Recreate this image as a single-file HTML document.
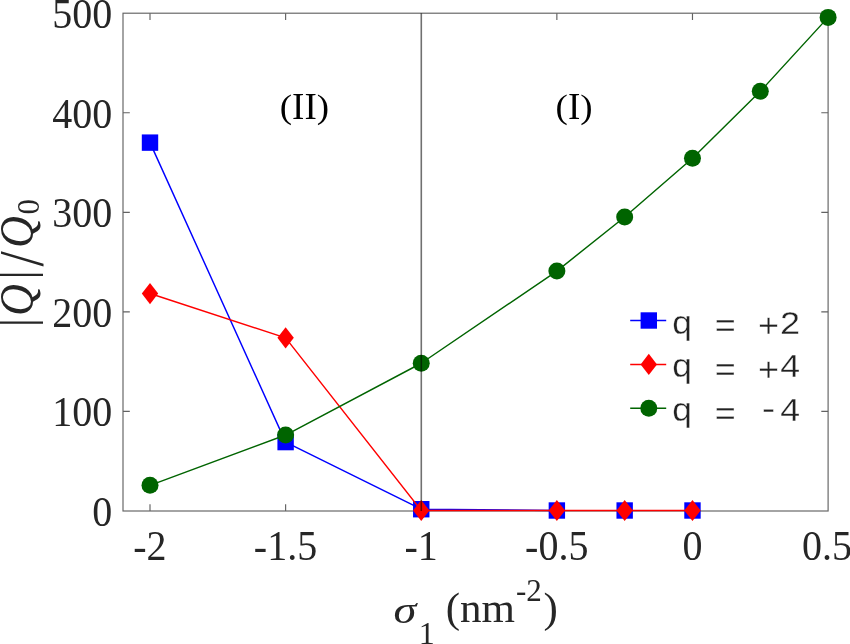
<!DOCTYPE html>
<html lang="en"><head><meta charset="utf-8"><title>Chart</title>
<style>html,body{margin:0;padding:0;background:#fff;overflow:hidden}svg{display:block}text{font-family:"Liberation Serif",serif}.tk{font-size:40px;fill:#262626}.lg{font-family:"Liberation Mono",monospace;font-size:36px;fill:#222;stroke:#fff;stroke-width:0.4px}.an{font-size:37px;fill:#000}</style></head><body>
<svg width="850" height="644" viewBox="0 0 850 644">
<rect width="850" height="644" fill="#fff"/>
<g stroke="#626262" stroke-width="1.15" fill="none">
<rect x="123.00" y="13.20" width="705.10" height="497.80"/>
<path d="M150.00 511.00v-6.80M150.00 13.20v6.80"/>
<path d="M285.62 511.00v-6.80M285.62 13.20v6.80"/>
<path d="M556.86 511.00v-6.80M556.86 13.20v6.80"/>
<path d="M692.48 511.00v-6.80M692.48 13.20v6.80"/>
<path d="M123.00 411.44h6.80M828.10 411.44h-6.80"/>
<path d="M123.00 311.88h6.80M828.10 311.88h-6.80"/>
<path d="M123.00 212.32h6.80M828.10 212.32h-6.80"/>
<path d="M123.00 112.76h6.80M828.10 112.76h-6.80"/>
</g>
<polyline points="150.00,142.63 285.62,442.10 421.24,509.21 556.86,510.50" fill="none" stroke="#0000ff" stroke-width="1.45" stroke-linejoin="round"/>
<rect x="141.80" y="134.43" width="16.40" height="16.40" fill="#0000ff"/>
<rect x="277.42" y="433.90" width="16.40" height="16.40" fill="#0000ff"/>
<rect x="413.04" y="501.01" width="16.40" height="16.40" fill="#0000ff"/>
<rect x="548.66" y="502.30" width="16.40" height="16.40" fill="#0000ff"/>
<rect x="616.47" y="502.30" width="16.40" height="16.40" fill="#0000ff"/>
<rect x="684.28" y="502.30" width="16.40" height="16.40" fill="#0000ff"/>
<polyline points="150.00,293.56 285.62,337.87 421.24,510.50 556.86,510.50 624.67,510.50 692.48,510.50" fill="none" stroke="#ff0000" stroke-width="1.45" stroke-linejoin="round"/>
<path d="M150.00 282.96L158.20 293.56L150.00 304.16L141.80 293.56Z" fill="#ff0000"/>
<path d="M285.62 327.27L293.82 337.87L285.62 348.47L277.42 337.87Z" fill="#ff0000"/>
<path d="M421.24 499.90L429.44 510.50L421.24 521.10L413.04 510.50Z" fill="#ff0000"/>
<path d="M556.86 499.90L565.06 510.50L556.86 521.10L548.66 510.50Z" fill="#ff0000"/>
<path d="M624.67 499.90L632.87 510.50L624.67 521.10L616.47 510.50Z" fill="#ff0000"/>
<path d="M692.48 499.90L700.68 510.50L692.48 521.10L684.28 510.50Z" fill="#ff0000"/>
<polyline points="150.00,485.31 285.62,435.04 421.24,363.25 556.86,271.06 624.67,217.00 692.48,158.26 760.29,91.35 828.10,17.38" fill="none" stroke="#006400" stroke-width="1.45" stroke-linejoin="round"/>
<circle cx="150.00" cy="485.31" r="8.50" fill="#006400"/>
<circle cx="285.62" cy="435.04" r="8.50" fill="#006400"/>
<circle cx="421.24" cy="363.25" r="8.50" fill="#006400"/>
<circle cx="556.86" cy="271.06" r="8.50" fill="#006400"/>
<circle cx="624.67" cy="217.00" r="8.50" fill="#006400"/>
<circle cx="692.48" cy="158.26" r="8.50" fill="#006400"/>
<circle cx="760.29" cy="91.35" r="8.50" fill="#006400"/>
<circle cx="828.10" cy="17.38" r="8.50" fill="#006400"/>
<line x1="421.29" y1="13.20" x2="421.29" y2="511.00" stroke="#000" stroke-opacity="0.56" stroke-width="1.6"/>
<text class="tk" transform="translate(149.90 560) scale(1 1.065)" text-anchor="middle">-2</text>
<text class="tk" transform="translate(285.52 560) scale(1 1.065)" text-anchor="middle">-1.5</text>
<text class="tk" transform="translate(421.14 560) scale(1 1.065)" text-anchor="middle">-1</text>
<text class="tk" transform="translate(556.76 560) scale(1 1.065)" text-anchor="middle">-0.5</text>
<text class="tk" transform="translate(692.38 560) scale(1 1.065)" text-anchor="middle">0</text>
<text class="tk" transform="translate(827.00 560) scale(1 1.065)" text-anchor="middle">0.5</text>
<text class="tk" transform="translate(112.2 526.00) scale(1 1.065)" text-anchor="end">0</text>
<text class="tk" transform="translate(112.2 426.44) scale(1 1.065)" text-anchor="end">100</text>
<text class="tk" transform="translate(112.2 326.88) scale(1 1.065)" text-anchor="end">200</text>
<text class="tk" transform="translate(112.2 227.32) scale(1 1.065)" text-anchor="end">300</text>
<text class="tk" transform="translate(112.2 127.76) scale(1 1.065)" text-anchor="end">400</text>
<text class="tk" transform="translate(112.2 28.20) scale(1 1.065)" text-anchor="end">500</text>
<text class="an" transform="translate(279.75 117.55) scale(1 0.912)">(</text>
<text class="an" x="292.07" y="118.8">II</text>
<text class="an" transform="translate(316.71 117.55) scale(1 0.912)">)</text>
<text class="an" transform="translate(555.60 117.55) scale(1 0.912)">(</text>
<text class="an" x="567.92" y="118.8">I</text>
<text class="an" transform="translate(580.24 117.55) scale(1 0.912)">)</text>
<line x1="630.2" y1="320.50" x2="666.2" y2="320.50" stroke="#0000ff" stroke-width="1.45"/>
<rect x="640.60" y="312.30" width="16.40" height="16.40" fill="#0000ff"/>
<text class="lg" transform="translate(671.3 333.50) scale(1 0.93)" xml:space="preserve">q <tspan dy="3.6">= +</tspan><tspan dy="-3.6">2</tspan></text>
<line x1="630.2" y1="364.40" x2="666.2" y2="364.40" stroke="#ff0000" stroke-width="1.45"/>
<path d="M648.80 353.80L657.00 364.40L648.80 375.00L640.60 364.40Z" fill="#ff0000"/>
<text class="lg" transform="translate(671.3 377.40) scale(1 0.93)" xml:space="preserve">q <tspan dy="3.6">= +</tspan><tspan dy="-3.6">4</tspan></text>
<line x1="630.2" y1="408.30" x2="666.2" y2="408.30" stroke="#006400" stroke-width="1.45"/>
<circle cx="648.80" cy="408.30" r="8.50" fill="#006400"/>
<text class="lg" transform="translate(671.3 421.30) scale(1 0.93)" xml:space="preserve">q <tspan dy="3.6">= </tspan><tspan dy="-5">-</tspan><tspan dy="1.4">4</tspan></text>
<text transform="translate(393.6 622.7) scale(1.08 0.89)" font-size="43px" fill="#262626" font-style="italic">σ</text>
<text x="418.8" y="644" font-size="32px" fill="#262626">1</text>
<text x="445.8" y="621.6" font-size="43px" fill="#262626">(nm</text>
<text x="516" y="600.5" font-size="31px" fill="#262626">-2</text>
<text x="543.5" y="621.6" font-size="43px" fill="#262626">)</text>
<g transform="translate(32.6 0) rotate(-90)" fill="#262626">
<text transform="translate(-327.40 -0.10) scale(1.000 1.000)" font-size="48.8px">|</text>
<text transform="translate(-316.00 0.00) scale(1.000 1.080)" font-size="44.0px" font-style="italic">Q</text>
<text transform="translate(-279.70 -0.10) scale(1.000 1.000)" font-size="48.8px">|</text>
<text transform="translate(-266.50 10.60) scale(1.100 1.280)" font-size="50.0px">/</text>
<text transform="translate(-248.00 0.00) scale(1.000 1.080)" font-size="44.0px" font-style="italic">Q</text>
<text transform="translate(-214.50 6.80) scale(1.000 1.000)" font-size="31.0px">0</text>
</g>
</svg></body></html>
